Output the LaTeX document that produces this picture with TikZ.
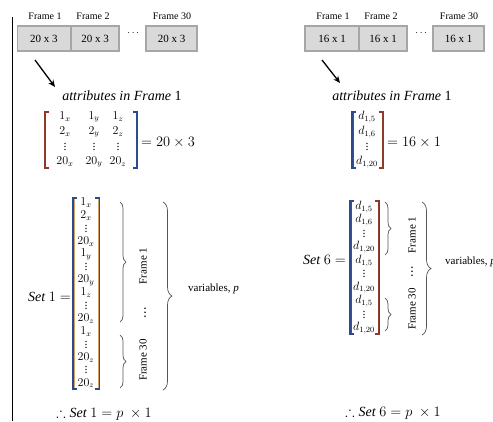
\documentclass[tikz,border=0pt]{standalone}
\usepackage{amsmath,amssymb}
\usepackage{fontspec}
\setmainfont{Liberation Serif}
\usetikzlibrary{decorations.pathreplacing,arrows.meta}
\definecolor{navy}{HTML}{2B4B8C}
\definecolor{tan}{HTML}{D9A066}
\definecolor{rust}{HTML}{8E3B28}
\definecolor{boxfill}{HTML}{D9D9D9}
\definecolor{boxline}{HTML}{A6A6A6}
\definecolor{bracecol}{HTML}{555555}
% compact vertical dots (no top kern)
\newcommand\vd{\vbox{\baselineskip=3pt\lineskiplimit=0pt\hbox{.}\hbox{.}\hbox{.}}}
\newcommand\vdb{\vbox{\baselineskip=4pt\lineskiplimit=0pt\hbox{\textbf{.}}\hbox{\textbf{.}}\hbox{\textbf{.}}}}
\tikzset{
  framebox/.style={draw=boxline, fill=boxfill, line width=1.2pt, minimum height=25pt,
    inner sep=0pt, font=\fontsize{11}{13}\selectfont},
  framelbl/.style={font=\fontsize{10}{12}\selectfont, inner sep=0pt},
  pointer/.style={line width=1.3pt, -{Stealth[length=7pt,width=6pt]}},
  entry/.style={font=\fontsize{12}{14}\selectfont, inner sep=0pt},
  mtxt/.style={font=\fontsize{14}{16}\selectfont, inner sep=0pt},
  bigbrace/.style={draw=bracecol, line width=0.7pt, decorate,
    decoration={brace, amplitude=6pt}},
  rotlbl/.style={font=\fontsize{11}{13}\selectfont, rotate=90, inner sep=0pt},
  brk/.style={line width=1.1pt},
}
\begin{document}
\begin{tikzpicture}[x=1pt,y=-1pt]
\useasboundingbox (0,0) rectangle (493,421);
\clip (0,0) rectangle (493,421);

% left rule
\draw[line width=0.9pt] (12,17) -- (12,421);

% ---------- left column: frames of 20 x 3 ----------
\node[framebox, minimum width=53pt] (lb1) at (44,38.5) {20 x 3};
\node[framebox, minimum width=48pt] (lb2) at (95,38.5) {20 x 3};
\node[framebox, minimum width=51pt] (lb3) at (171.5,38.5) {20 x 3};
\node[framelbl] (lf1) at (45,16) {Frame 1};
\node[framelbl] (lf2) at (93,16) {Frame 2};
\node[framelbl] (lf3) at (172,16) {Frame 30};
\node[inner sep=0pt] (ldots) at (134,33) {$\cdots$};

\coordinate (la0) at (35,60);
\coordinate (la1) at (55,87);
\draw[pointer] (la0) -- (la1);
\node[mtxt] (lattr) at (122,96) {\textit{attributes in Frame} 1};

% 20 x 3 matrix
\foreach \t [count=\i] in {1_x,2_x,\vd,20_x}{
  \node[entry] (lmx\i) at (65,{117+(\i-1)*15}) {$\t$};}
\foreach \t [count=\i] in {1_y,2_y,\vd,20_y}{
  \node[entry] (lmy\i) at (94,{117+(\i-1)*15}) {$\t$};}
\foreach \t [count=\i] in {1_z,2_z,\vd,20_z}{
  \node[entry] (lmz\i) at (118,{117+(\i-1)*15}) {$\t$};}
\draw[brk, rust] (49,112) -- (45,112) -- (45,168) -- (49,168);
\draw[brk, navy] (133,112) -- (137,112) -- (137,168) -- (133,168);
\node[mtxt, anchor=west] (leq) at (141,142) {$=20\times 3$};

% Set 1 column vector
\node[mtxt, anchor=east] (lset) at (71,297) {$\mathit{Set}\ 1=$};
\foreach \t [count=\i] in {1_x,2_x,\vd,20_x,1_y,\vd,20_y,1_z,\vd,20_z,1_x,\vd,20_z,\vd,20_z}{
  \node[entry] (sv\i) at (86,{203+(\i-1)*12.86}) {$\t$};
}
\draw[brk, navy] (77,198) -- (73,198) -- (73,389) -- (77,389);
\draw[line width=0.5pt, tan] (74.2,199.2) -- (74.2,387.8);
\draw[brk, navy] (95,198) -- (99,198) -- (99,389) -- (95,389);
\draw[line width=0.5pt, tan] (97.8,199.2) -- (97.8,387.8);

\coordinate (lbr1a) at (120,202);
\coordinate (lbr1b) at (120,322);
\draw[bigbrace] (lbr1a) -- (lbr1b);
\node[rotlbl] (lfr1) at (143,266) {Frame 1};
\node[inner sep=0pt] (lvd) at (145,313) {\vdb};
\coordinate (lbr2a) at (120,335);
\coordinate (lbr2b) at (120,388);
\draw[bigbrace] (lbr2a) -- (lbr2b);
\node[rotlbl] (lfr30) at (143,360) {Frame 30};
\coordinate (lbr3a) at (163,202);
\coordinate (lbr3b) at (163,390);
\draw[bigbrace, decoration={brace, amplitude=9pt}] (lbr3a) -- (lbr3b);
\node[framelbl, anchor=west, font=\fontsize{11}{13}\selectfont] (lvar) at (188,289) {variables, \textit{p}};

\node[mtxt] (lres) at (104,414) {$\therefore \mathit{Set}\ 1=p\ \times 1$};

% ---------- right column: frames of 16 x 1 ----------
\node[framebox, minimum width=54pt] (rb1) at (332,38.5) {16 x 1};
\node[framebox, minimum width=48pt] (rb2) at (383,38.5) {16 x 1};
\node[framebox, minimum width=51pt] (rb3) at (458.5,38.5) {16 x 1};
\node[framelbl] (rf1) at (333,16) {Frame 1};
\node[framelbl] (rf2) at (381,16) {Frame 2};
\node[framelbl] (rf3) at (459,16) {Frame 30};
\node[inner sep=0pt] (rdots) at (422,33) {$\cdots$};

\coordinate (ra0) at (322,60);
\coordinate (ra1) at (340,83);
\draw[pointer] (ra0) -- (ra1);
\node[mtxt] (rattr) at (392,96) {\textit{attributes in Frame} 1};

% 16 x 1 matrix
\foreach \t [count=\i] in {{d_{1,5}},{d_{1,6}},\vd,{d_{1,20}}}{
  \node[entry] (rm\i) at (367,{117+(\i-1)*15}) {$\t$};
}
\draw[brk, navy] (356,112) -- (352,112) -- (352,168) -- (356,168);
\draw[line width=0.5pt, rust] (353.2,113.2) -- (353.2,166.8);
\draw[brk, rust] (379,112) -- (383,112) -- (383,168) -- (379,168);
\node[mtxt, anchor=west] (req) at (387,142) {$=16\times 1$};

% Set 6 column vector
\node[mtxt, anchor=east] (rset) at (346,260) {$\mathit{Set}\ 6=$};
\foreach \t [count=\i] in {{d_{1,5}},{d_{1,6}},\vd,{d_{1,20}},{d_{1,5}},\vd,{d_{1,20}},{d_{1,5}},\vd,{d_{1,20}}}{
  \node[entry] (dv\i) at (364,{207+(\i-1)*13.44}) {$\t$};
}
\draw[brk, navy] (354,201) -- (350,201) -- (350,334) -- (354,334);
\draw[line width=0.6pt, rust] (351.3,202.2) -- (351.3,332.8);
\draw[brk, rust] (375,201) -- (379,201) -- (379,334) -- (375,334);
\draw[line width=0.5pt, navy] (379.4,201) -- (379.4,334);

\coordinate (rbr1a) at (385,202);
\coordinate (rbr1b) at (385,255);
\draw[bigbrace] (rbr1a) -- (rbr1b);
\node[rotlbl] (rfr1) at (412,235) {Frame 1};
\node[inner sep=0pt] (rvd) at (412,272) {\vdb};
\coordinate (rbr2a) at (385,298);
\coordinate (rbr2b) at (385,331);
\draw[bigbrace] (rbr2a) -- (rbr2b);
\node[rotlbl] (rfr30) at (412,309) {Frame 30};
\coordinate (rbr3a) at (422,202);
\coordinate (rbr3b) at (422,335);
\draw[bigbrace, decoration={brace, amplitude=9pt}] (rbr3a) -- (rbr3b);
\node[framelbl, anchor=west, font=\fontsize{11}{13}\selectfont] (rvar) at (445,262) {variables, \textit{p}};

\node[mtxt] (rres) at (393,413) {$\therefore \mathit{Set}\ 6=p\ \times 1$};
\end{tikzpicture}
\end{document}
